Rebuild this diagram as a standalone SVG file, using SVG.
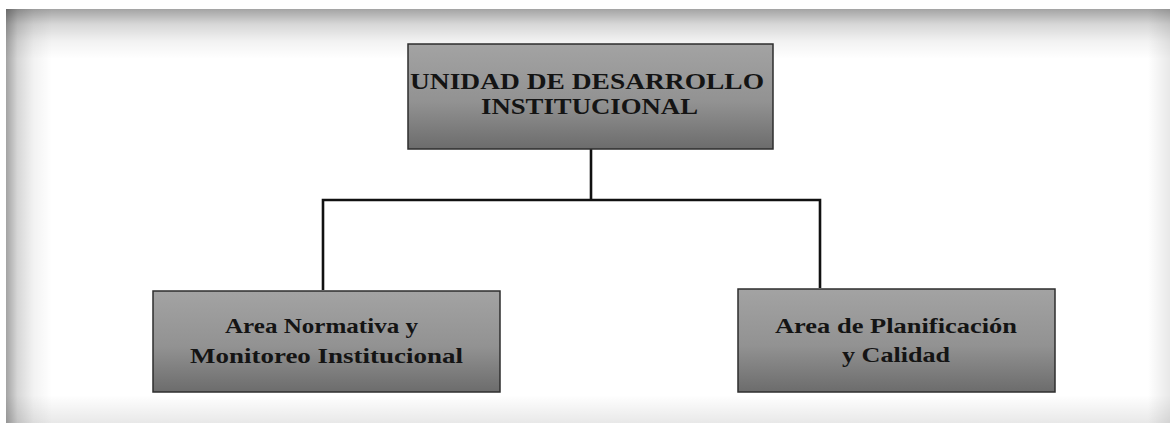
<svg xmlns="http://www.w3.org/2000/svg" width="1170" height="423" viewBox="0 0 1170 423">
<defs>
<linearGradient id="boxg" x1="0" y1="0" x2="0" y2="1">
<stop offset="0" stop-color="#a3a3a3"/>
<stop offset="0.55" stop-color="#929292"/>
<stop offset="1" stop-color="#6c6c6c"/>
</linearGradient>
<linearGradient id="topS" x1="0" y1="0" x2="0" y2="1">
<stop offset="0" stop-color="#000" stop-opacity="0.36"/>
<stop offset="0.3" stop-color="#000" stop-opacity="0.16"/>
<stop offset="0.65" stop-color="#000" stop-opacity="0.05"/>
<stop offset="1" stop-color="#000" stop-opacity="0"/>
</linearGradient>
<linearGradient id="leftS" x1="0" y1="0" x2="1" y2="0">
<stop offset="0" stop-color="#000" stop-opacity="0.36"/>
<stop offset="0.25" stop-color="#000" stop-opacity="0.16"/>
<stop offset="0.6" stop-color="#000" stop-opacity="0.05"/>
<stop offset="1" stop-color="#000" stop-opacity="0"/>
</linearGradient>
<linearGradient id="botS" x1="0" y1="0" x2="0" y2="1">
<stop offset="0" stop-color="#000" stop-opacity="0"/>
<stop offset="1" stop-color="#000" stop-opacity="0.09"/>
</linearGradient>
<linearGradient id="rightS" x1="0" y1="0" x2="1" y2="0">
<stop offset="0" stop-color="#000" stop-opacity="0"/>
<stop offset="1" stop-color="#000" stop-opacity="0.09"/>
</linearGradient>
</defs>
<style>
.box{fill:url(#boxg);stroke:#2e2e2e;stroke-width:1.5}
.t{font-family:"Liberation Serif","Times New Roman",serif;font-weight:bold;fill:#141414;text-anchor:middle}
.big{font-size:24px}
.small{font-size:21px}
.conn{stroke:#111;stroke-width:2.6;fill:none}
</style>
<rect x="0" y="0" width="1170" height="423" fill="#ffffff"/>
<g id="frame">
<rect x="1148" y="9" width="22" height="414" fill="url(#rightS)"/>
<rect x="6" y="395" width="1164" height="28" fill="url(#botS)"/>
<rect x="6" y="9" width="1164" height="50" fill="url(#topS)"/>
<rect x="6" y="9" width="46" height="414" fill="url(#leftS)"/>
</g>
<g id="connectors">
<path class="conn" d="M591,149 V200"/>
<path class="conn" d="M323,290 V200 H820 V288"/>
</g>
<g id="node-unidad">
<rect class="box" x="408" y="44" width="365" height="105"/>
<text class="t big" x="587" y="89" textLength="354" lengthAdjust="spacingAndGlyphs">UNIDAD DE DESARROLLO</text>
<text class="t big" x="589.5" y="114" textLength="217" lengthAdjust="spacingAndGlyphs">INSTITUCIONAL</text>
</g>
<g id="node-normativa">
<rect class="box" x="153" y="291" width="347" height="101"/>
<text class="t small" x="321.5" y="333" textLength="193" lengthAdjust="spacingAndGlyphs">Area Normativa y</text>
<text class="t small" x="326.5" y="363" textLength="273" lengthAdjust="spacingAndGlyphs">Monitoreo Institucional</text>
</g>
<g id="node-planificacion">
<rect class="box" x="738" y="289" width="317" height="103"/>
<text class="t small" x="896" y="333" textLength="242" lengthAdjust="spacingAndGlyphs">Area de Planificación</text>
<text class="t small" x="896" y="362" textLength="108" lengthAdjust="spacingAndGlyphs">y Calidad</text>
</g>
</svg>
